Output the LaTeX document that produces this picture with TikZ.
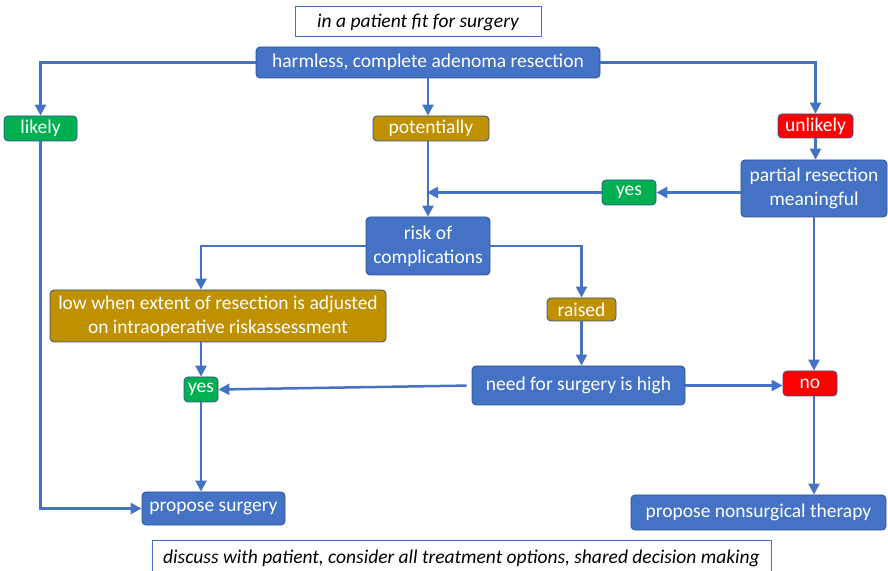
\documentclass[tikz,border=0pt]{standalone}
\usepackage{fontspec}
\setmainfont{Carlito}
\usetikzlibrary{arrows.meta}
\definecolor{fillblue}{HTML}{4472C4}
\definecolor{edgeblue}{HTML}{2F528F}
\definecolor{okgreen}{HTML}{00B050}
\definecolor{midgold}{HTML}{BF9000}
\definecolor{nored}{HTML}{FF0000}

\begin{document}
\begin{tikzpicture}[x=1pt,y=1pt,
 box/.style={draw=edgeblue, line width=.8pt, rounded corners=4pt, text=white, inner sep=0pt,
  align=center, font=\fontsize{19.5}{24}\selectfont},
 note/.style={draw=fillblue, line width=1pt, fill=white, inner sep=0pt,
  font=\fontsize{19.5}{24}\selectfont\itshape},
 conn/.style={fillblue, line width=2.5pt, -{Triangle[length=11pt,width=11pt]}}]
\useasboundingbox (0,0) rectangle (888,570);

% notes on top and bottom
\node[note, minimum width=246, minimum height=30] (fit) at (418,548) {in a patient fit for surgery};
\node[note, minimum width=619, minimum height=36] (talk) at (461.5,12) {discuss with patient, consider all treatment options, shared decision making};

% decision boxes
\node[box, fill=fillblue, minimum width=344, minimum height=31] (harm) at (428,507.5) {harmless, complete adenoma resection};
\node[box, fill=okgreen, minimum width=73, minimum height=25] (likely) at (40.5,441.5) {likely};
\node[box, fill=midgold, minimum width=116, minimum height=25] (pot) at (431,441.5) {potentially};
\node[box, fill=nored, minimum width=75, minimum height=24] (unl) at (815.5,444) {unlikely};
\node[box, fill=fillblue, minimum width=146, minimum height=57] (part) at (814,381.5) {partial resection\\meaningful};
\node[box, fill=okgreen, minimum width=54, minimum height=25] (yesA) at (629,377.5) {yes};
\node[box, fill=fillblue, minimum width=124, minimum height=58] (risk) at (428,324) {risk of\\complications};
\node[box, fill=midgold, minimum width=336, minimum height=52] (low) at (218,254) {low when extent of resection is adjusted\\on intraoperative riskassessment};
\node[box, fill=midgold, minimum width=69, minimum height=23] (raised) at (581.5,260.5) {raised};
\node[box, fill=okgreen, minimum width=34, minimum height=25] (yesB) at (201,180.5) {yes};
\node[box, fill=fillblue, minimum width=213, minimum height=39] (need) at (578.5,184.5) {need for surgery is high};
\node[box, fill=nored, minimum width=54, minimum height=25] (no) at (810,186.5) {no};
\node[box, fill=fillblue, minimum width=143, minimum height=33] (psurg) at (213.5,61.5) {propose surgery};
\node[box, fill=fillblue, minimum width=255, minimum height=35] (pnon) at (758.5,57.5) {propose nonsurgical therapy};

% connectors
\draw[conn] (harm.west) -| (likely.north);
\draw[conn] (harm.south) -- (harm.south |- pot.north);
\draw[conn] (harm.east) -| (unl.north);
\draw[conn] (unl.south) -- (unl.south |- part.north);
\draw[conn] (yesA -| part.west) -- (yesA.east);
\draw[conn, shorten >=-1pt] (yesA.west) -- (harm.south |- yesA);
\draw[conn] (harm.south |- pot.south) -- (risk.north);
\draw[conn] (risk.west) -| (yesB |- low.north);
\draw[conn] (risk.east) -| (raised.north);
\draw[conn] (raised.south) -- (raised.south |- need.north);
\draw[conn] (yesB |- low.south) -- (yesB.north);
\draw[conn, shorten <=5pt] (need.west) -- (yesB.east);
\draw[conn] (need.east) -- (need.east -| no.west);
\draw[conn] (part.south) -- (part.south |- no.north);
\draw[conn] (no.south -| part.south) -- (part.south |- pnon.north);
\draw[conn] (yesB.south) -- (yesB |- psurg.north);
\draw[conn] (likely.south) |- (psurg.west);
\end{tikzpicture}
\end{document}
